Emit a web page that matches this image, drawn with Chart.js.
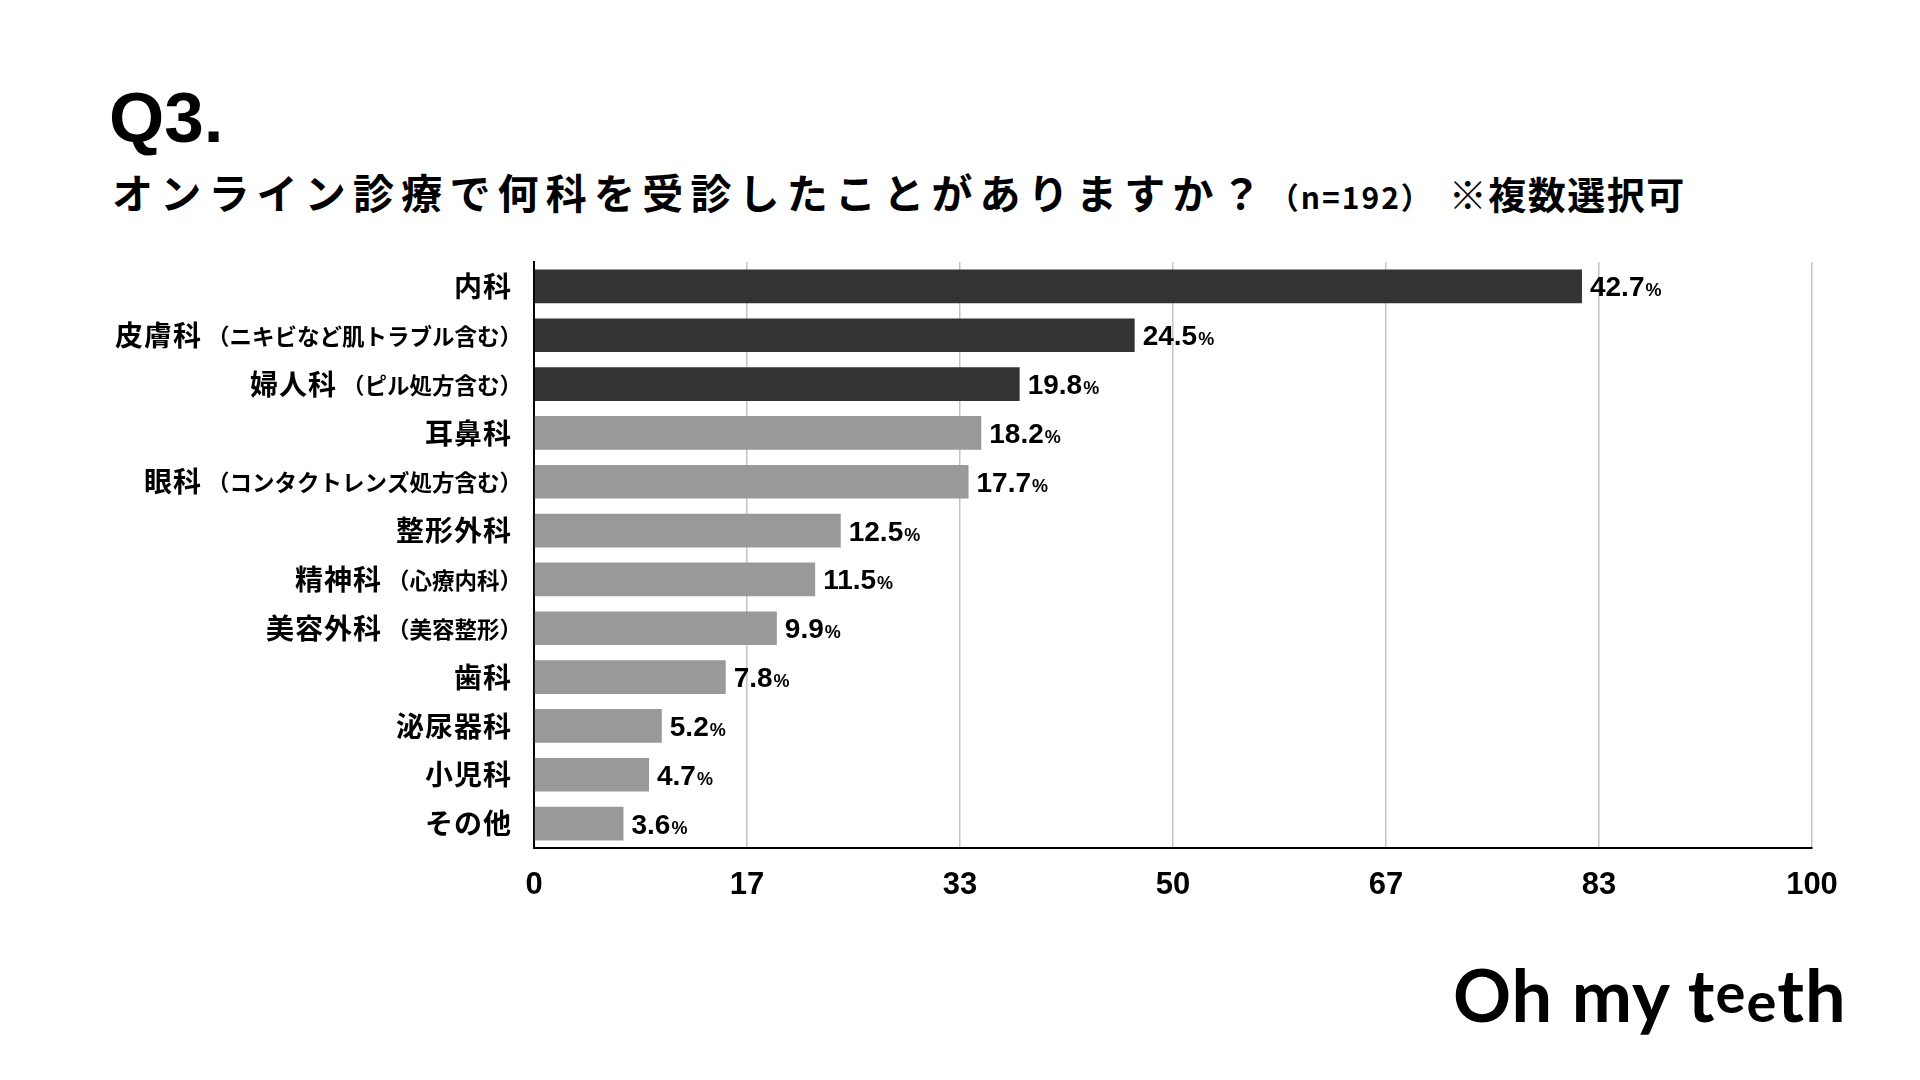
<!DOCTYPE html>
<html lang="ja">
<head>
  <meta charset="UTF-8">
  <title>Q3 オンライン診療</title>
  <script src="https://cdn.jsdelivr.net/npm/chart.js"></script>
  <style>
    html, body { margin: 0; padding: 0; background: #fff; }
    body { width: 1920px; height: 1080px; position: relative; overflow: hidden; }
    #chart { position: absolute; left: 0; top: 0; }
    .q { position: absolute; left: 109px; top: 82px; font: 700 71px "Liberation Sans", Arial, sans-serif; line-height: 1; color: #000; }
    .sub { position: absolute; left: 112px; top: 171px; font-family: "Noto Sans CJK JP", sans-serif; font-weight: 700; line-height: 1; color: #000; white-space: nowrap; }
    .sub .main { font-size: 41px; letter-spacing: 7.2px; }
    .sub .n { font-size: 30px; letter-spacing: 2px; }
    .sub .note { font-size: 38px; letter-spacing: 1.5px; margin-left: 16px; }
    .logo { position: absolute; left: 1453px; top: 958px; font: 700 72px Lato, sans-serif; line-height: 1; color: #000; letter-spacing: 1px; white-space: nowrap; }
    .logo .up { position: relative; top: -9px; font-size: 56px; }
    .logo .dn { font-size: 56px; }
  </style>
</head>
<body>

  <div class="q">Q3.</div>
  <div class="sub"><span class="main">オンライン診療で何科を受診したことがありますか？</span><span class="n">（n=192）</span><span class="note">※複数選択可</span></div>
  <canvas id="chart" width="1920" height="1080"></canvas>
  <div class="logo">Oh my t<span class="up">e</span><span class="dn">e</span>th</div>

  <script>
    // data (bar length = respondents out of n=192, label = share)
    const categories = ['内科', '皮膚科', '婦人科', '耳鼻科', '眼科', '整形外科', '精神科', '美容外科', '歯科', '泌尿器科', '小児科', 'その他'];
    const categoryNotes = ['', '（ニキビなど肌トラブル含む）', '（ピル処方含む）', '', '（コンタクトレンズ処方含む）', '', '（心療内科）', '（美容整形）', '', '', '', ''];
    const counts = [82, 47, 38, 35, 34, 24, 22, 19, 15, 10, 9, 7];
    const percentLabels = ['42.7', '24.5', '19.8', '18.2', '17.7', '12.5', '11.5', '9.9', '7.8', '5.2', '4.7', '3.6'];
    const xTickLabels = ['0', '17', '33', '50', '67', '83', '100'];
    const xMax = 100;
    const highlighted = 3; // top three drawn dark

    const DARK = '#333333';
    const GRAY = '#999999';
    const CJK = '"Noto Sans CJK JP", sans-serif';
    const LATIN = '"Liberation Sans", Arial, sans-serif';

    // category labels: big main text + smaller note in brackets
    const categoryLabels = {
      id: 'categoryLabels',
      afterDraw(chart) {
        const ctx = chart.ctx;
        const y = chart.scales.y;
        const right = chart.chartArea.left - 22;
        ctx.save();
        ctx.fillStyle = '#000';
        ctx.textBaseline = 'middle';
        ctx.textAlign = 'right';
        categories.forEach((name, i) => {
          const py = y.getPixelForValue(i);
          let x = right;
          if (categoryNotes[i]) {
            // closing bracket is full width, pull it in so the ink ends at the label edge
            ctx.font = '700 22.5px ' + CJK;
            ctx.fillText(categoryNotes[i], x + 10, py + 1);
            x -= ctx.measureText(categoryNotes[i]).width - 10 + 5;
          }
          ctx.font = '700 28px ' + CJK;
          ctx.letterSpacing = '1px';
          ctx.fillText(name, x, py);
          ctx.letterSpacing = '0px';
        });
        ctx.restore();
      }
    };

    // value labels at bar ends: "42.7" + small "%"
    const valueLabels = {
      id: 'valueLabels',
      afterDatasetsDraw(chart) {
        const ctx = chart.ctx;
        const meta = chart.getDatasetMeta(0);
        ctx.save();
        ctx.fillStyle = '#000';
        ctx.textBaseline = 'alphabetic';
        ctx.textAlign = 'left';
        meta.data.forEach((bar, i) => {
          const x = bar.x + 8;
          const base = bar.y + 10;
          ctx.font = '700 28px ' + LATIN;
          ctx.fillText(percentLabels[i], x, base);
          const w = ctx.measureText(percentLabels[i]).width;
          ctx.font = '700 18px ' + LATIN;
          ctx.fillText('%', x + w + 1, base);
        });
        ctx.restore();
      }
    };

    new Chart(document.getElementById('chart'), {
      type: 'bar',
      data: {
        labels: categories.map((c, i) => c + categoryNotes[i]),
        datasets: [{
          data: counts,
          backgroundColor: ctx => ctx.dataIndex < highlighted ? DARK : GRAY,
          categoryPercentage: 1,
          barPercentage: 0.69,
          borderWidth: 0
        }]
      },
      options: {
        indexAxis: 'y',
        responsive: false,
        animation: false,
        layout: { padding: { left: 534, right: 108, top: 262, bottom: 172 } },
        plugins: {
          legend: { display: false },
          tooltip: { enabled: false },
          title: { display: false }
        },
        scales: {
          x: {
            min: 0,
            max: xMax,
            afterBuildTicks: scale => {
              scale.ticks = xTickLabels.map((t, i) => ({ value: i * xMax / (xTickLabels.length - 1) }));
            },
            afterFit: scale => { scale.height = 60; },
            ticks: {
              padding: 19,
              color: '#000',
              font: { family: LATIN, size: 31, weight: '700' },
              callback: (v, i) => xTickLabels[i]
            },
            grid: { color: '#c4c4c4', lineWidth: 1.5, drawTicks: false },
            border: { display: true, color: '#000', width: 2 }
          },
          y: {
            afterFit: scale => { scale.width = 0; },
            ticks: { display: false },
            grid: { display: false, drawTicks: false },
            border: { display: true, color: '#000', width: 2 }
          }
        }
      },
      plugins: [categoryLabels, valueLabels]
    });
  </script>
</body>
</html>
